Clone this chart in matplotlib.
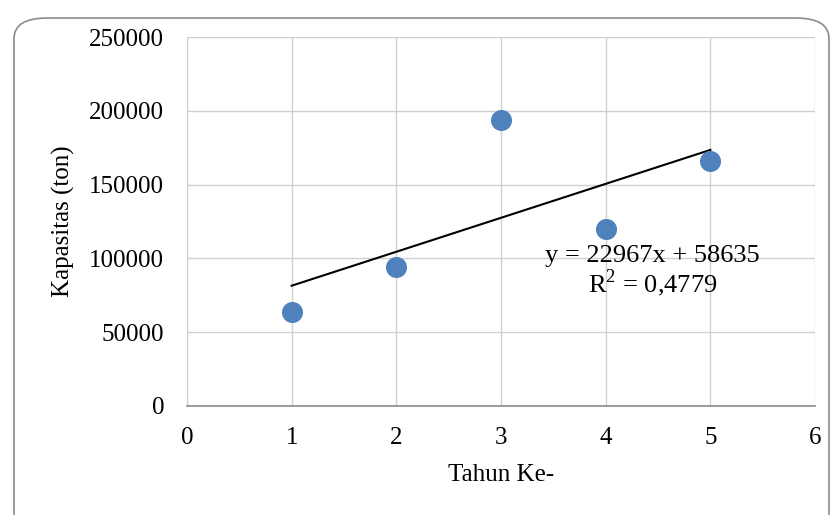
import numpy as np
import matplotlib
matplotlib.use("Agg")
import matplotlib.pyplot as plt
from matplotlib.patches import FancyBboxPatch

years = [1, 2, 3, 4, 5]
capacity = [64000, 94000, 193500, 120000, 166000]
xticks = [0, 1, 2, 3, 4, 5, 6]
yticks = [0, 50000, 100000, 150000, 200000, 250000]
eq_text = "y = 22967x + 58635"
r2_text = "R$^2$ = 0,4779"

plt.rcParams['font.family'] = ['Liberation Serif', 'DejaVu Serif']
plt.rcParams['mathtext.fontset'] = 'custom'
plt.rcParams['mathtext.rm'] = 'Liberation Serif'

fig = plt.figure(figsize=(8.33, 5.15), dpi=100)
ax = fig.add_axes([187/833, 1-406/515, (815-187)/833, (406-37)/515])

border = FancyBboxPatch((14/833, -0.05), (829-14)/833, 1-18/515+0.05,
                        boxstyle="round,pad=0,rounding_size=0.04",
                        transform=fig.transFigure, fill=False,
                        edgecolor="#8c8c8c", linewidth=1.2, clip_on=False)
fig.patches.append(border)

ax.set_xlim(0, 6)
ax.set_ylim(0, 250000)
ax.set_xticks(xticks)
ax.set_yticks(yticks)
ax.set_xticklabels([str(v) for v in xticks])
ax.set_yticklabels([str(v) for v in yticks])
ax.grid(True, color="#d0d0d0", linewidth=1.0)
ax.set_axisbelow(True)
for s in ["top", "right"]:
    ax.spines[s].set_visible(False)
ax.spines["left"].set_color("#d0d0d0")
ax.spines["bottom"].set_color("#8c8c8c")
ax.spines["bottom"].set_linewidth(1.2)
ax.tick_params(length=0, labelsize=18)
ax.tick_params(axis="y", pad=16.5)
ax.tick_params(axis="x", pad=15)

ax.scatter(years, capacity, s=200, color="#4f81bd", zorder=3)

coef = np.polyfit(years, capacity, 1)
xl = np.array([years[0], years[-1]])
ax.plot(xl, np.polyval(coef, xl), color="black", linewidth=1.5, zorder=2)

ax.text(4.45, 101500, eq_text, ha="center", va="center", fontsize=19)
ax.text(4.45, 83500, r2_text, ha="center", va="center", fontsize=19)

ax.set_xlabel("Tahun Ke-", fontsize=18, labelpad=11)
ax.set_ylabel("Kapasitas (ton)", fontsize=18, labelpad=10)

fig.savefig("out.png", dpi=100)
